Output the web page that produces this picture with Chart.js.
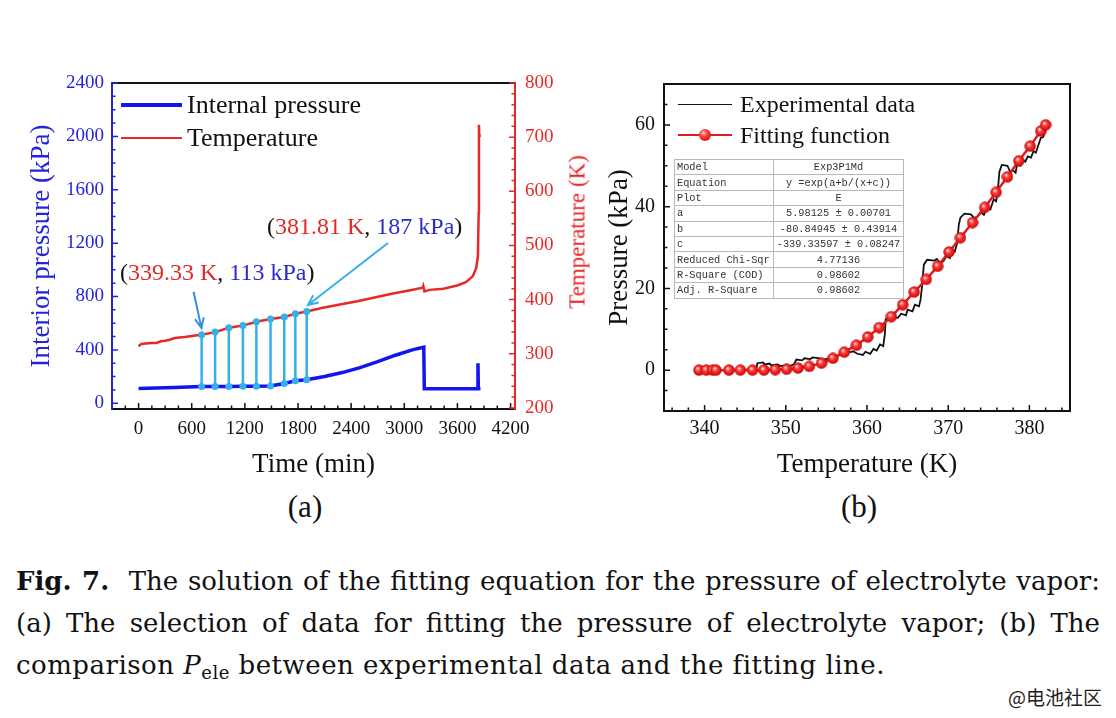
<!DOCTYPE html>
<html>
<head>
<meta charset="utf-8">
<title>Fig. 7</title>
<script src="https://cdn.jsdelivr.net/npm/chart.js@4.4.1/dist/chart.umd.min.js"></script>
<style>
    html, body { margin: 0; padding: 0; background: #fff; }
    body { width: 1116px; height: 718px; position: relative; overflow: hidden; font-family: 'Liberation Serif', 'Times New Roman', serif; color: #111; }
    canvas { position: absolute; }
    #graficoA { left: 0; top: 60px; }
    #graficoB { left: 600px; top: 60px; }
    .t { position: absolute; white-space: nowrap; line-height: 1; }
    .linea { position: absolute; height: 0; }
    .rot { transform: translate(-50%, -50%) rotate(-90deg); }
    .cap { position: absolute; left: 16px; width: 1084px; font-family: 'DejaVu Serif', serif; font-size: 26px; line-height: 42px; color: #111; }
    .just { text-align: justify; text-align-last: justify; }
    .cap sub { font-size: 18px; vertical-align: -5px; line-height: 0; }
    #tabla { position: absolute; left: 674px; top: 159px; width: 230px; border-collapse: collapse; table-layout: fixed;
             font-family: 'Liberation Mono', monospace; font-size: 10.3px; color: #333; background: #fff; }
    #tabla td { border: 1px solid #b9b9b9; padding: 0 2px; height: 14.4px; line-height: 14px; white-space: nowrap; overflow: hidden; }
    #tabla td:first-child { width: 94px; text-align: left; }
    #tabla td:last-child { text-align: center; }
    .bola { position: absolute; width: 12px; height: 12px; border-radius: 50%;
            background: radial-gradient(circle at 38% 35%, #ffd6d6 0%, #ff3a3a 35%, #c40000 100%); }
</style>
</head>
<body>

<canvas id="graficoA" width="600" height="420"></canvas>
<canvas id="graficoB" width="516" height="420"></canvas>

<!-- leyenda (a) -->
<div class="linea" style="left:121px; top:103px; width:61px; border-top:4px solid #1414f0;"></div>
<div class="t" style="left:187px; top:92px; font-size:26px;">Internal pressure</div>
<div class="linea" style="left:121px; top:137px; width:61px; border-top:2.5px solid #e82727;"></div>
<div class="t" style="left:187px; top:125px; font-size:26px;">Temperature</div>

<!-- titulo eje derecho (a) -->
<div class="t rot" style="left:577px; top:232px; font-size:23px; color:#e82727;">Temperature (K)</div>

<!-- anotaciones (a) -->
<div class="t" style="left:267px; top:214px; font-size:24px;">(<span style="color:#e02a2a">381.81 K</span>, <span style="color:#2b2bc8">187 kPa</span>)</div>
<div class="t" style="left:120px; top:260px; font-size:24px;">(<span style="color:#e02a2a">339.33 K</span>, <span style="color:#2b2bc8">113 kPa</span>)</div>

<!-- leyenda (b) -->
<div class="linea" style="left:678px; top:104px; width:54px; border-top:1.5px solid #111;"></div>
<div class="t" style="left:740px; top:92px; font-size:24px;">Experimental data</div>
<div class="linea" style="left:678px; top:134px; width:54px; border-top:2.5px solid #e01b1b;"></div>
<div class="bola" style="left:699px; top:129px;"></div>
<div class="t" style="left:740px; top:123px; font-size:24px;">Fitting function</div>

<table id="tabla">
    <tr><td>Model</td><td>Exp3P1Md</td></tr>
    <tr><td>Equation</td><td>y =exp(a+b/(x+c))</td></tr>
    <tr><td>Plot</td><td>E</td></tr>
    <tr><td>a</td><td>5.98125 ± 0.00701</td></tr>
    <tr><td>b</td><td>-80.84945 ± 0.43914</td></tr>
    <tr><td>c</td><td>-339.33597 ± 0.08247</td></tr>
    <tr><td>Reduced Chi-Sqr</td><td>4.77136</td></tr>
    <tr><td>R-Square (COD)</td><td>0.98602</td></tr>
    <tr><td>Adj. R-Square</td><td>0.98602</td></tr>
</table>

<div class="t" style="left:305px; top:491px; font-size:31px; transform:translateX(-50%);">(a)</div>
<div class="t" style="left:859px; top:491px; font-size:31px; transform:translateX(-50%);">(b)</div>

<div class="cap just" style="top:560px;"><b>Fig. 7.</b>&nbsp; The solution of the fitting equation for the pressure of electrolyte vapor:</div>
<div class="cap just" style="top:602px;">(a) The selection of data for fitting the pressure of electrolyte vapor; (b) The</div>
<div class="cap" style="top:644px; letter-spacing:0.5px;">comparison <i>P</i><sub>ele</sub> between experimental data and the fitting line.</div>

<div class="t" style="left:1008px; top:687px; font-family:'Noto Sans CJK SC', sans-serif; font-size:19px; color:#222;">@电池社区</div>

<script>
// ---- datos (a): presion interna y temperatura contra tiempo ----
const tiempoPresion = [0, 400, 712, 864, 1019, 1178, 1330, 1490, 1645, 1770, 1898, 2100, 2300, 2500, 2700, 2900, 3100, 3220, 3226, 3830, 3832, 3836, 3860];
const presion = [110, 118, 125, 125, 126, 127, 128, 130, 148, 168, 176, 200, 230, 267, 312, 360, 402, 420, 108, 108, 300, 108, 108];

const tiempoTemp = [0, 30, 80, 150, 200, 253, 300, 350, 408, 460, 520, 603, 660, 712, 864, 1019, 1178, 1330, 1490, 1645, 1770, 1898,
                    2081, 2275, 2470, 2664, 2859, 3053, 3209, 3215, 3228, 3287, 3442, 3598, 3695, 3773, 3812, 3831, 3840, 3843, 3846, 3850];
const temperatura = [314, 318, 319, 320, 320, 323, 324, 326, 329, 330, 331, 333, 334, 335, 340, 348, 352, 359, 364, 368, 374, 378,
                     385, 391, 397, 404, 411, 417, 422, 425, 415, 418, 420, 426, 432, 443, 458, 480, 560, 723, 705, 700];

// puntos elegidos para el ajuste
const tiempoSel = [712, 864, 1019, 1178, 1330, 1490, 1645, 1770, 1898];
const tempSel = [335, 340, 348, 352, 359, 364, 368, 374, 378];
const presionSel = [125, 125, 126, 127, 128, 130, 148, 168, 176];

const ticksTiempo = [0, 600, 1200, 1800, 2400, 3000, 3600, 4200];
const ticksPresion = [0, 400, 800, 1200, 1600, 2000, 2400];
const ticksTemp = [200, 300, 400, 500, 600, 700, 800];

// flechas de las anotaciones [tiempo, temperatura]
const flechaDesde = [[621, 414.6], [2816, 504.5]];
const flechaHasta = [[710, 347.6], [1913, 390]];

// ---- datos (b): presion contra temperatura ----
const tempExp = [339.3, 341.0, 343.0, 345.0, 345.9, 346.4, 346.5, 347.2, 347.4, 348.0, 348.2, 349.0, 349.3, 350.2, 350.5, 351.0,
                 351.3, 352.0, 352.3, 353.0, 353.3, 354.2, 354.5, 355.2, 355.6, 356.2, 356.6, 357.2, 357.5, 358.3, 358.8, 359.5,
                 359.8, 360.4, 360.8, 361.2, 361.6, 362.0, 362.2, 362.3, 363.0, 363.8, 364.2, 364.8, 365.0, 365.6, 365.9, 366.4,
                 366.6, 366.8, 367.0, 367.4, 368.3, 368.6, 369.0, 369.4, 369.8, 370.2, 370.5, 370.8, 371.1, 371.3, 371.5, 372.0,
                 372.8, 373.2, 373.6, 374.0, 374.4, 374.8, 375.2, 375.6, 375.9, 376.1, 376.3, 376.6, 377.3, 377.6, 377.9, 378.3,
                 378.5, 378.9, 379.2, 379.5, 379.8, 380.2, 380.5, 380.8, 381.1, 381.4, 381.7, 382.0];
const presionExp = [0, 0, 0.1, 0.1, 0.3, 0.6, 1.7, 1.9, 1.4, 1.6, 1.2, 1.4, 1.0, 1.2, 1.0, 1.4,
                    2.6, 2.4, 2.9, 2.7, 3.1, 2.9, 2.5, 2.8, 3.5, 3.2, 3.8, 3.6, 4.2, 4.6, 4.0, 3.7,
                    4.5, 4.0, 5.2, 4.8, 6.3, 5.9, 8.8, 12.4, 13.1, 12.8, 13.8, 13.4, 14.8, 14.4, 16.0, 15.6,
                    17.3, 21.0, 25.8, 27.0, 26.8, 27.2, 26.2, 26.6, 27.9, 27.4, 29.5, 29.0, 31.0, 35.5, 37.3, 38.3,
                    38.1, 37.2, 37.6, 38.6, 38.0, 39.8, 39.3, 41.8, 41.3, 43.5, 48.5, 50.2, 50.0, 48.6, 49.0, 48.3,
                    50.5, 50.0, 51.4, 51.0, 52.3, 52.0, 53.6, 53.2, 55.0, 56.8, 57.0, 58.8];

const tempAjuste = [339.3, 340.2, 341.0, 341.4, 343.0, 344.4, 345.9, 347.3, 348.7, 350.1, 351.5, 352.9, 354.4, 355.8, 357.2, 358.7, 360.1,
                    361.5, 363.0, 364.4, 365.8, 367.3, 368.7, 370.1, 371.5, 373.0, 374.5, 375.9, 377.3, 378.7, 380.1, 381.4, 382.0];
const presionAjuste = [0, 0, 0, 0, 0, 0, 0, 0, 0.1, 0.2, 0.5, 0.9, 1.7, 2.9, 4.4, 6.1, 8.1,
                       10.4, 13.1, 16.0, 19.1, 22.2, 25.4, 28.9, 32.4, 36.1, 39.8, 43.5, 47.3, 51.2, 54.8, 58.5, 60.0];

const ticksTempB = [340, 350, 360, 370, 380];
const ticksPresionB = [0, 20, 40, 60];

const serif = "'Liberation Serif', 'Times New Roman', serif";
const azul = '#2323dc';
const azulLinea = '#1414f0';
const rojo = '#e82727';
const cian = '#35b0e8';
const negro = '#111';

function puntos(xs, ys) {
    return xs.map((x, i) => ({ x: x, y: ys[i] }));
}

function rango(desde, hasta, paso) {
    const r = [];
    for (let v = desde; v <= hasta + 1e-9; v += paso) r.push(Math.round(v * 1000) / 1000);
    return r;
}

// marcas hacia adentro del area del grafico
function marcas(ctx, escala, valores, largo, color, lado) {
    ctx.save();
    ctx.strokeStyle = color;
    ctx.lineWidth = 1.5;
    ctx.beginPath();
    valores.forEach(v => {
        if (v < escala.min || v > escala.max) return;
        const p = escala.getPixelForValue(v);
        if (lado === 'abajo') { ctx.moveTo(p, escala.top); ctx.lineTo(p, escala.top - largo); }
        if (lado === 'izq') { ctx.moveTo(escala.right, p); ctx.lineTo(escala.right + largo, p); }
        if (lado === 'der') { ctx.moveTo(escala.left, p); ctx.lineTo(escala.left - largo, p); }
    });
    ctx.stroke();
    ctx.restore();
}

function menores(desde, hasta, paso, mayores) {
    return rango(desde, hasta, paso).filter(v => !mayores.includes(v));
}

function flecha(ctx, x1, y1, x2, y2, color) {
    const ang = Math.atan2(y2 - y1, x2 - x1);
    const L = 11, W = 0.42;
    ctx.save();
    ctx.strokeStyle = color;
    ctx.lineWidth = 2;
    ctx.beginPath();
    ctx.moveTo(x1, y1);
    ctx.lineTo(x2, y2);
    ctx.moveTo(x2 - L * Math.cos(ang - W), y2 - L * Math.sin(ang - W));
    ctx.lineTo(x2, y2);
    ctx.lineTo(x2 - L * Math.cos(ang + W), y2 - L * Math.sin(ang + W));
    ctx.stroke();
    ctx.restore();
}

function ejeY(color, ancho, extra) {
    return Object.assign({
        grid: { display: false, drawTicks: false },
        border: { color: color, width: 2 },
        afterFit: s => { s.width = ancho; }
    }, extra);
}

const extrasA = {
    id: 'extrasA',
    afterDatasetDraw(chart, args) {
        if (args.index !== 2) return;
        // lineas verticales entre temperatura y presion de los puntos elegidos
        const arriba = chart.getDatasetMeta(0).data;
        const abajo = chart.getDatasetMeta(1).data;
        const ctx = chart.ctx;
        ctx.save();
        ctx.strokeStyle = cian;
        ctx.lineWidth = 2.5;
        ctx.beginPath();
        arriba.forEach((p, i) => {
            ctx.moveTo(p.x, p.y);
            ctx.lineTo(abajo[i].x, abajo[i].y);
        });
        ctx.stroke();
        ctx.restore();
    },
    afterDraw(chart) {
        const { ctx, chartArea: a, scales } = chart;
        ctx.save();
        ctx.strokeStyle = negro;
        ctx.lineWidth = 2;
        ctx.beginPath();
        ctx.moveTo(a.left, a.top);
        ctx.lineTo(a.right, a.top);
        ctx.stroke();
        ctx.restore();

        marcas(ctx, scales.x, ticksTiempo, 6, negro, 'abajo');
        marcas(ctx, scales.x, menores(-150, 4200, 150, ticksTiempo), 3.5, negro, 'abajo');
        marcas(ctx, scales.y, ticksPresion, 6, azul, 'izq');
        marcas(ctx, scales.y, menores(0, 2400, 100, ticksPresion), 3.5, azul, 'izq');
        marcas(ctx, scales.y2, ticksTemp, 6, rojo, 'der');
        marcas(ctx, scales.y2, menores(200, 800, 20, ticksTemp), 3.5, rojo, 'der');

        const colores = ['#3a8fe0', cian];
        flechaDesde.forEach((d, i) => {
            const h = flechaHasta[i];
            flecha(ctx,
                scales.x.getPixelForValue(d[0]), scales.y2.getPixelForValue(d[1]),
                scales.x.getPixelForValue(h[0]), scales.y2.getPixelForValue(h[1]), colores[i]);
        });
    }
};

const extrasB = {
    id: 'extrasB',
    afterDraw(chart) {
        const { ctx, chartArea: a, scales } = chart;
        ctx.save();
        ctx.strokeStyle = negro;
        ctx.lineWidth = 2;
        ctx.beginPath();
        ctx.moveTo(a.left, a.top);
        ctx.lineTo(a.right, a.top);
        ctx.lineTo(a.right, a.bottom);
        ctx.stroke();
        ctx.restore();

        marcas(ctx, scales.x, ticksTempB, 6, negro, 'abajo');
        marcas(ctx, scales.x, menores(336, 384, 2, ticksTempB), 3.5, negro, 'abajo');
        marcas(ctx, scales.y, ticksPresionB, 6, negro, 'izq');
        marcas(ctx, scales.y, menores(-10, 70, 5, ticksPresionB), 3.5, negro, 'izq');
    }
};

function crearBola(tam) {
    const c = document.createElement('canvas');
    c.width = tam;
    c.height = tam;
    const g = c.getContext('2d');
    const grad = g.createRadialGradient(tam * 0.38, tam * 0.35, tam * 0.04, tam / 2, tam / 2, tam / 2);
    grad.addColorStop(0, '#ffd6d6');
    grad.addColorStop(0.35, '#ff3a3a');
    grad.addColorStop(1, '#c40000');
    g.fillStyle = grad;
    g.beginPath();
    g.arc(tam / 2, tam / 2, tam / 2 - 0.3, 0, Math.PI * 2);
    g.fill();
    return c;
}

function crearGraficoA() {
    const ctx = document.getElementById('graficoA').getContext('2d');
    new Chart(ctx, {
        type: 'line',
        data: {
            datasets: [
                { data: puntos(tiempoSel, tempSel), yAxisID: 'y2', showLine: false, order: 0,
                  pointRadius: 3.5, pointBackgroundColor: cian, pointBorderColor: cian, pointBorderWidth: 0 },
                { data: puntos(tiempoSel, presionSel), yAxisID: 'y', showLine: false, order: 1,
                  pointRadius: 3.5, pointBackgroundColor: cian, pointBorderColor: cian, pointBorderWidth: 0 },
                { label: 'Internal pressure', data: puntos(tiempoPresion, presion), yAxisID: 'y', order: 2,
                  borderColor: azulLinea, borderWidth: 3.5, pointRadius: 0, tension: 0 },
                { label: 'Temperature', data: puntos(tiempoTemp, temperatura), yAxisID: 'y2', order: 3,
                  borderColor: rojo, borderWidth: 2.5, pointRadius: 0, tension: 0 }
            ]
        },
        options: {
            responsive: false,
            animation: false,
            layout: { padding: { top: 23, left: 0, right: 0, bottom: 0 } },
            plugins: { legend: { display: false }, tooltip: { enabled: false } },
            scales: {
                x: {
                    type: 'linear', min: -300, max: 4250,
                    grid: { display: false, drawTicks: false },
                    border: { color: negro, width: 2 },
                    afterBuildTicks: s => { s.ticks = ticksTiempo.map(v => ({ value: v })); },
                    afterFit: s => { s.height = 71; },
                    ticks: { color: negro, autoSkip: false, maxRotation: 0, padding: 9,
                             font: { family: serif, size: 19, lineHeight: 1.2 }, callback: v => String(v) },
                    title: { display: true, text: 'Time (min)', color: negro,
                             font: { family: serif, size: 27, lineHeight: 1 }, padding: { top: 0, bottom: 2 } }
                },
                y: ejeY(azul, 112, {
                    type: 'linear', position: 'left', min: -43, max: 2400,
                    afterBuildTicks: s => { s.ticks = ticksPresion.map(v => ({ value: v })); },
                    ticks: { color: azul, autoSkip: false, padding: 8,
                             font: { family: serif, size: 19, lineHeight: 1.2 }, callback: v => String(v) },
                    title: { display: true, text: 'Interior pressure (kPa)', color: azul,
                             font: { family: serif, size: 27, lineHeight: 1 }, padding: { top: 28, bottom: 0 } }
                }),
                y2: ejeY(rojo, 85, {
                    type: 'linear', position: 'right', min: 198, max: 800,
                    afterBuildTicks: s => { s.ticks = ticksTemp.map(v => ({ value: v })); },
                    ticks: { color: rojo, autoSkip: false, padding: 10,
                             font: { family: serif, size: 19, lineHeight: 1.2 }, callback: v => String(v) }
                })
            }
        },
        plugins: [extrasA]
    });
}

function crearGraficoB() {
    const ctx = document.getElementById('graficoB').getContext('2d');
    new Chart(ctx, {
        type: 'line',
        data: {
            datasets: [
                { label: 'Fitting function', data: puntos(tempAjuste, presionAjuste), order: 0,
                  borderColor: '#e01b1b', borderWidth: 2.5, pointStyle: crearBola(12), pointRadius: 6, tension: 0 },
                { label: 'Experimental data', data: puntos(tempExp, presionExp), order: 1,
                  borderColor: negro, borderWidth: 1.8, pointRadius: 0, tension: 0 }
            ]
        },
        options: {
            responsive: false,
            animation: false,
            layout: { padding: { top: 24, left: 0, right: 46, bottom: 0 } },
            plugins: { legend: { display: false }, tooltip: { enabled: false } },
            scales: {
                x: {
                    type: 'linear', min: 335, max: 385,
                    grid: { display: false, drawTicks: false },
                    border: { color: negro, width: 2 },
                    afterBuildTicks: s => { s.ticks = ticksTempB.map(v => ({ value: v })); },
                    afterFit: s => { s.height = 69; },
                    ticks: { color: negro, autoSkip: false, maxRotation: 0, padding: 6,
                             font: { family: serif, size: 20, lineHeight: 1.2 }, callback: v => String(v) },
                    title: { display: true, text: 'Temperature (K)', color: negro,
                             font: { family: serif, size: 27, lineHeight: 1 }, padding: { top: 0, bottom: 2 } }
                },
                y: ejeY(negro, 64, {
                    type: 'linear', position: 'left', min: -10, max: 70,
                    afterBuildTicks: s => { s.ticks = ticksPresionB.map(v => ({ value: v })); },
                    ticks: { color: negro, autoSkip: false, padding: 9,
                             font: { family: serif, size: 20, lineHeight: 1.2 }, callback: v => String(v) },
                    title: { display: true, text: 'Pressure (kPa)', color: negro,
                             font: { family: serif, size: 27, lineHeight: 1 }, padding: { top: 6, bottom: 0 } }
                })
            }
        },
        plugins: [extrasB]
    });
}

document.addEventListener('DOMContentLoaded', () => {
    crearGraficoA();
    crearGraficoB();
});
</script>
</body>
</html>
